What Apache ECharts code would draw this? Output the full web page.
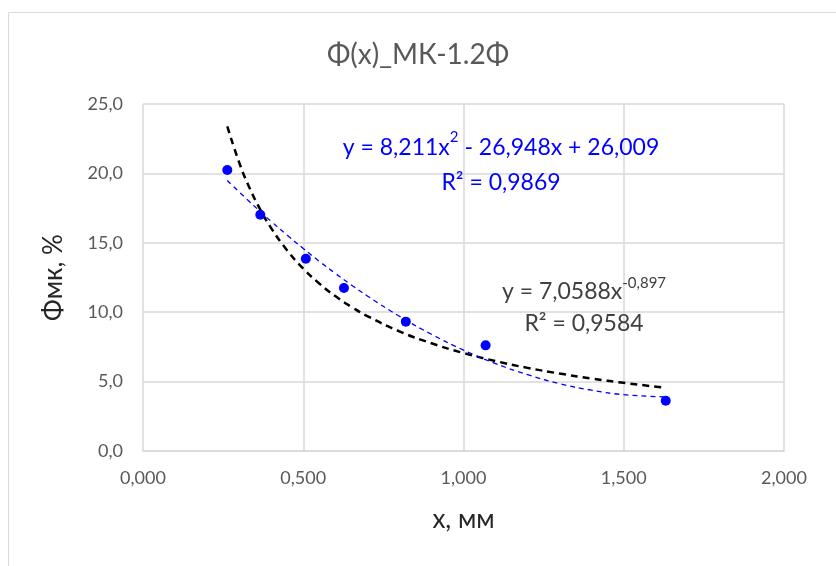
<!DOCTYPE html>
<html>
<head>
<meta charset="utf-8">
<script src="https://cdn.jsdelivr.net/npm/echarts@6/dist/echarts.min.js"></script>
<style>
html,body{margin:0;padding:0;background:#fff;}
#main{width:836px;height:566px;}
</style>
</head>
<body>
<div id="main"></div>
<script>
// Measured points
const xData = [0.263, 0.366, 0.508, 0.627, 0.820, 1.069, 1.631];
const yData = [20.24, 17.02, 13.85, 11.74, 9.32, 7.61, 3.62];

// Trendline readings (power fit: y = 7,0588x^-0,897)
const powX = [0.263, 0.30, 0.33, 0.366, 0.40, 0.45, 0.50, 0.55, 0.60, 0.65, 0.70, 0.80, 0.90, 1.00, 1.10, 1.20, 1.30, 1.40, 1.50, 1.631];
const powY = [23.39, 20.79, 19.08, 17.39, 16.06, 14.45, 13.14, 12.07, 11.16, 10.39, 9.72, 8.62, 7.76, 7.06, 6.48, 5.99, 5.58, 5.22, 4.91, 4.55];

// Trendline readings (polynomial fit: y = 8,211x^2 - 26,948x + 26,009)
const polyX = [0.263, 0.33, 0.366, 0.40, 0.45, 0.50, 0.55, 0.60, 0.65, 0.70, 0.80, 0.90, 1.00, 1.10, 1.20, 1.30, 1.40, 1.50, 1.631];
const polyY = [19.49, 18.01, 17.25, 16.54, 15.55, 14.59, 13.67, 12.80, 11.96, 11.17, 9.71, 8.41, 7.27, 6.30, 5.50, 4.85, 4.38, 4.06, 3.90];

const xTicks = [0, 0.5, 1.0, 1.5, 2.0];
const yTicks = [0, 5, 10, 15, 20, 25];

const chartTitle = 'Φ(x)_МК-1.2Φ';
const xName = 'x, мм';
const yName = 'Φмк, %';

const zip = (a, b) => a.map((v, i) => [v, b[i]]);
const FONT = 'Lato, "Open Sans", sans-serif';

const chart = echarts.init(document.getElementById('main'));

const eqBlue = {
  type: 'text', z: 10,
  style: {
    text: '{a|y = 8,211x}{s|2}{a| - 26,948x + 26,009}\n{a|R² = 0,9869}',
    x: 501, y: 130, align: 'center', verticalAlign: 'top',
    rich: {
      a: {fill: '#0000ff', fontSize: 23, fontFamily: FONT, lineHeight: 35, align: 'center'},
      s: {fill: '#0000ff', fontSize: 15, fontFamily: FONT, lineHeight: 27, verticalAlign: 'top'}
    }
  }
};
const eqBlack = {
  type: 'text', z: 10,
  style: {
    text: '{a|y = 7,0588x}{s|-0,897}\n{a|R² = 0,9584}',
    x: 584, y: 276, align: 'center', verticalAlign: 'top',
    rich: {
      a: {fill: '#404040', fontSize: 23, fontFamily: FONT, lineHeight: 32, align: 'center'},
      s: {fill: '#404040', fontSize: 15, fontFamily: FONT, lineHeight: 24, verticalAlign: 'top'}
    }
  }
};

chart.setOption({
  backgroundColor: '#fff',
  animation: false,
  title: {
    text: chartTitle,
    left: 'center',
    top: 36,
    textStyle: {color: '#595959', fontSize: 28, fontWeight: 'normal', fontFamily: FONT}
  },
  grid: {left: 143, right: 52, top: 104, bottom: 115, containLabel: false},
  xAxis: {
    type: 'value',
    min: xTicks[0], max: xTicks[xTicks.length - 1], interval: 0.5,
    name: xName, nameLocation: 'middle', nameGap: 56,
    nameTextStyle: {color: '#262626', fontSize: 26, fontFamily: FONT},
    axisLine: {show: true, lineStyle: {color: '#d9d9d9', width: 1.5}},
    axisTick: {show: false},
    axisLabel: {color: '#595959', fontSize: 18, fontFamily: FONT, margin: 18,
      formatter: v => v.toFixed(3).replace('.', ',')},
    splitLine: {show: true, lineStyle: {color: '#d9d9d9', width: 1.5}}
  },
  yAxis: {
    type: 'value',
    min: yTicks[0], max: yTicks[yTicks.length - 1], interval: 5,
    name: yName, nameLocation: 'middle', nameGap: 76, nameRotate: 90,
    nameTextStyle: {color: '#262626', fontSize: 26, fontFamily: FONT},
    axisLine: {show: false},
    axisTick: {show: false},
    axisLabel: {color: '#595959', fontSize: 18, fontFamily: FONT, margin: 20,
      formatter: v => v.toFixed(1).replace('.', ',')},
    splitLine: {show: true, lineStyle: {color: '#d9d9d9', width: 1.5}}
  },
  series: [
    {
      type: 'line', data: zip(powX, powY), smooth: true, showSymbol: false, symbol: 'none',
      lineStyle: {color: '#000', width: 2.5, type: [7, 5]}, z: 2
    },
    {
      type: 'line', data: zip(polyX, polyY), smooth: true, showSymbol: false, symbol: 'none',
      lineStyle: {color: '#0000ff', width: 1.3, type: [5, 4]}, z: 3
    },
    {
      type: 'scatter', data: zip(xData, yData), symbol: 'circle', symbolSize: 10,
      itemStyle: {color: '#0000ff', opacity: 1}, z: 4
    }
  ],
  graphic: [
    {type: 'rect', shape: {x: 8.5, y: 12.5, width: 900, height: 700}, style: {fill: 'none', stroke: '#d9d9d9', lineWidth: 1}, silent: true, z: -10},
    eqBlue, eqBlack
  ]
});
</script>
</body>
</html>
